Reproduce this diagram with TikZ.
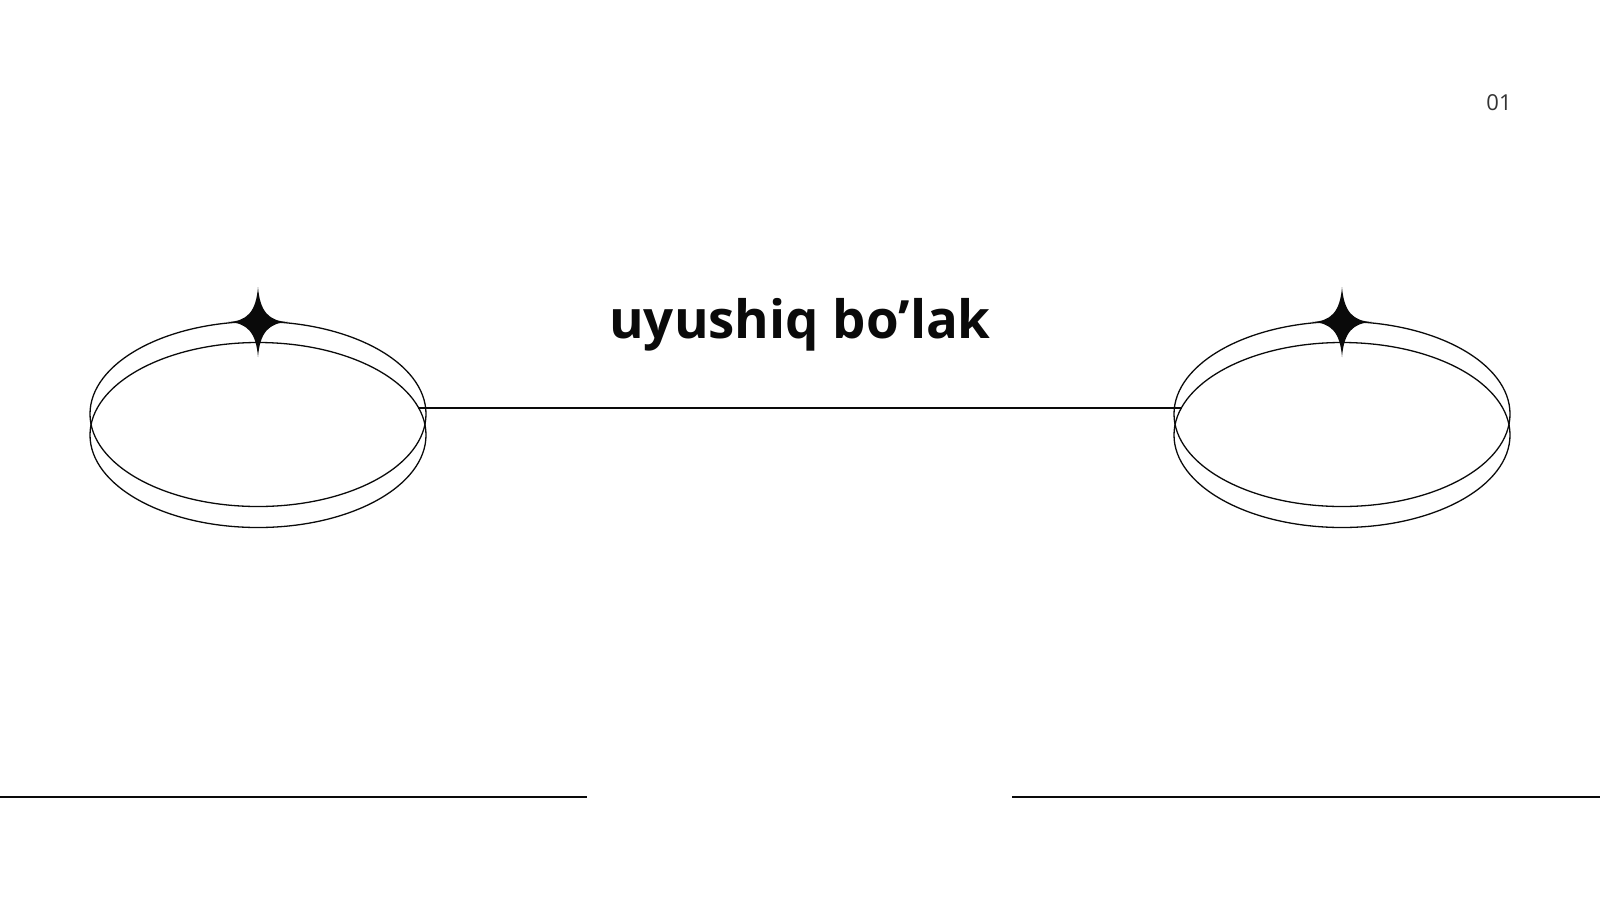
\documentclass[tikz,border=0pt]{standalone}
\usepackage{fontspec}
\setmainfont{Open Sans}
\usepackage{tikz}
\usetikzlibrary{positioning, calc}
\definecolor{InkBlack}{HTML}{0A0A0A}
\definecolor{PageGray}{HTML}{333333}

\tikzset{
  ring/.style={draw=InkBlack, line width=0.65pt},
  rule/.style={draw=InkBlack, line width=0.9pt},
  sparkle/.style={fill=InkBlack}
}

\begin{document}
\begin{tikzpicture}[x=0.5pt, y=-0.5pt]
\useasboundingbox (0,0) rectangle (1600,900);

% the two rings with their sparkles
\foreach \cx/\nm in {258/L, 1342/R}{
  \coordinate (ring\nm) at (\cx,414);
  \draw[ring] (ring\nm) ellipse [x radius=168, y radius=92.5];
  \draw[ring] ($(ring\nm)+(0,21)$) ellipse [x radius=168, y radius=92.5];
  \fill[sparkle] ($(ring\nm)+(0,-127)$) .. controls ($(ring\nm)+(2,-102)$) and ($(ring\nm)+(11,-93)$) .. ($(ring\nm)+(30,-92)$)
     .. controls ($(ring\nm)+(11,-91)$) and ($(ring\nm)+(2,-82)$) .. ($(ring\nm)+(0,-57)$)
     .. controls ($(ring\nm)+(-2,-82)$) and ($(ring\nm)+(-11,-91)$) .. ($(ring\nm)+(-30,-92)$)
     .. controls ($(ring\nm)+(-11,-93)$) and ($(ring\nm)+(-2,-102)$) .. cycle;
}

% connector between the rings
\coordinate (linkL) at (418,408);
\coordinate (linkR) at (1182,408);
\draw[line width=0.75pt, InkBlack] (linkL) -- (linkR);

% title and page number
\node[font=\fontsize{26.4}{32}\selectfont\bfseries, text=InkBlack, anchor=base] (title) at (800,338) {uyushiq bo’lak};
\node[font=\fontsize{11}{12}\selectfont, text=PageGray, anchor=base] (pagenum) at (1499,110) {01};

% bottom rules
\coordinate (ruleA) at (0,797);
\coordinate (ruleB) at (587,797);
\coordinate (ruleC) at (1012,797);
\coordinate (ruleD) at (1600,797);
\draw[rule] (ruleA) -- (ruleB);
\draw[rule] (ruleC) -- (ruleD);
\end{tikzpicture}
\end{document}
